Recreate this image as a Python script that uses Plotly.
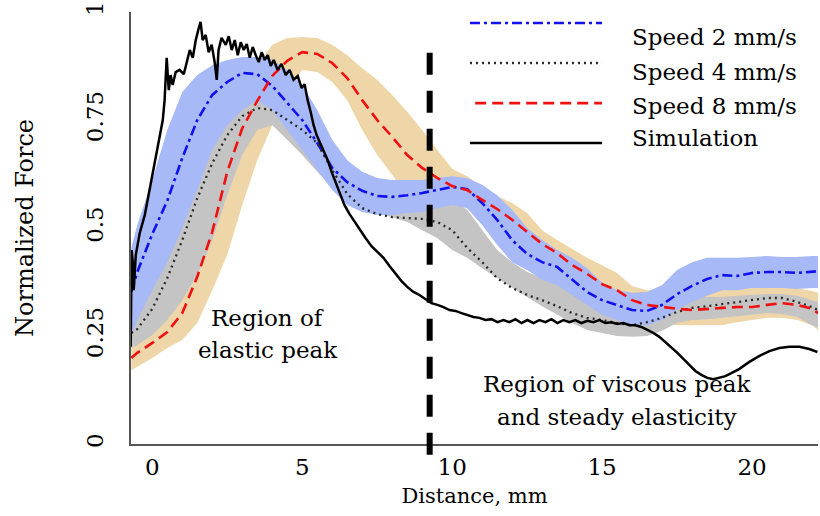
import plotly.graph_objects as go

# ---- data -----------------------------------------------------------------
# common distance grid (mm) for the measured speed curves
dist = [-0.7, -0.5, 0, 0.5, 1, 1.5, 2, 2.5, 3, 3.5, 4, 4.5, 5, 5.5, 6, 6.5, 7, 7.5,
        8, 8.5, 9, 9.5, 10, 10.5, 11, 11.5, 12, 12.5, 13, 13.5, 14, 14.5, 15, 15.5,
        16, 16.5, 17, 17.5, 18, 18.5, 19, 19.5, 20, 20.5, 21, 21.5, 22, 22.2]

speed2_mean = [0.352, 0.398, 0.486, 0.563, 0.662, 0.750, 0.808, 0.838, 0.859, 0.856,
               0.829, 0.789, 0.750, 0.697, 0.639, 0.606, 0.586, 0.574, 0.572, 0.576,
               0.581, 0.588, 0.595, 0.590, 0.558, 0.519, 0.472, 0.440, 0.421, 0.410,
               0.382, 0.352, 0.333, 0.322, 0.310, 0.308, 0.322, 0.347, 0.366, 0.382,
               0.391, 0.389, 0.396, 0.398, 0.398, 0.396, 0.398, 0.400]
speed2_hi = [0.454, 0.507, 0.611, 0.727, 0.815, 0.854, 0.877, 0.889, 0.896, 0.896,
             0.889, 0.866, 0.831, 0.773, 0.704, 0.657, 0.630, 0.616, 0.611, 0.611,
             0.611, 0.616, 0.620, 0.616, 0.600, 0.576, 0.542, 0.500, 0.472, 0.449,
             0.431, 0.407, 0.373, 0.356, 0.350, 0.352, 0.368, 0.403, 0.421, 0.431,
             0.431, 0.431, 0.433, 0.435, 0.433, 0.433, 0.435, 0.435]
speed2_lo = [0.252, 0.287, 0.356, 0.421, 0.500, 0.588, 0.681, 0.738, 0.773, 0.796,
             0.773, 0.727, 0.681, 0.634, 0.588, 0.553, 0.537, 0.530, 0.530, 0.535,
             0.537, 0.546, 0.553, 0.546, 0.507, 0.461, 0.421, 0.403, 0.380, 0.368,
             0.345, 0.322, 0.299, 0.287, 0.275, 0.275, 0.287, 0.310, 0.329, 0.343,
             0.356, 0.356, 0.361, 0.361, 0.361, 0.359, 0.361, 0.361]

speed4_mean = [0.257, 0.266, 0.313, 0.384, 0.472, 0.569, 0.650, 0.715, 0.759, 0.778,
               0.773, 0.750, 0.727, 0.697, 0.634, 0.579, 0.546, 0.532, 0.525, 0.523,
               0.521, 0.514, 0.495, 0.454, 0.421, 0.384, 0.361, 0.345, 0.333, 0.319,
               0.303, 0.292, 0.287, 0.280, 0.275, 0.282, 0.292, 0.306, 0.315, 0.319,
               0.324, 0.329, 0.333, 0.338, 0.338, 0.329, 0.317, 0.310]
speed4_hi = [0.310, 0.333, 0.380, 0.461, 0.553, 0.646, 0.715, 0.762, 0.796, 0.813,
             0.808, 0.785, 0.755, 0.715, 0.669, 0.623, 0.593, 0.576, 0.569, 0.565,
             0.565, 0.565, 0.565, 0.542, 0.495, 0.449, 0.421, 0.398, 0.384, 0.373,
             0.356, 0.345, 0.333, 0.329, 0.326, 0.329, 0.340, 0.345, 0.340, 0.340,
             0.340, 0.343, 0.345, 0.347, 0.347, 0.343, 0.333, 0.329]
speed4_lo = [0.222, 0.229, 0.252, 0.287, 0.333, 0.391, 0.472, 0.576, 0.669, 0.727,
             0.738, 0.704, 0.669, 0.630, 0.593, 0.565, 0.546, 0.535, 0.525, 0.514,
             0.495, 0.477, 0.449, 0.431, 0.407, 0.384, 0.361, 0.340, 0.319, 0.299,
             0.280, 0.264, 0.257, 0.250, 0.248, 0.250, 0.262, 0.280, 0.287, 0.289,
             0.292, 0.296, 0.299, 0.303, 0.301, 0.294, 0.275, 0.269]

speed8_mean = [0.199, 0.211, 0.234, 0.259, 0.303, 0.387, 0.491, 0.630, 0.731, 0.794,
               0.852, 0.887, 0.907, 0.903, 0.882, 0.847, 0.796, 0.750, 0.711, 0.669,
               0.639, 0.616, 0.597, 0.588, 0.565, 0.544, 0.519, 0.491, 0.463, 0.442,
               0.414, 0.394, 0.370, 0.356, 0.333, 0.322, 0.317, 0.313, 0.310, 0.313,
               0.315, 0.317, 0.317, 0.322, 0.326, 0.322, 0.313, 0.303]
speed8_hi = [0.229, 0.241, 0.269, 0.306, 0.356, 0.449, 0.576, 0.715, 0.808, 0.877,
             0.924, 0.940, 0.942, 0.940, 0.924, 0.900, 0.870, 0.843, 0.808, 0.769,
             0.727, 0.681, 0.637, 0.620, 0.595, 0.574, 0.558, 0.535, 0.495, 0.472,
             0.451, 0.431, 0.414, 0.396, 0.366, 0.356, 0.356, 0.361, 0.361, 0.361,
             0.359, 0.359, 0.361, 0.363, 0.363, 0.361, 0.354, 0.350]
speed8_lo = [0.171, 0.178, 0.199, 0.222, 0.241, 0.280, 0.356, 0.438, 0.553, 0.657,
             0.738, 0.819, 0.866, 0.861, 0.838, 0.796, 0.727, 0.669, 0.623, 0.576,
             0.553, 0.546, 0.553, 0.553, 0.530, 0.507, 0.477, 0.444, 0.421, 0.407,
             0.375, 0.352, 0.326, 0.317, 0.296, 0.287, 0.282, 0.275, 0.275, 0.275,
             0.275, 0.282, 0.287, 0.292, 0.292, 0.287, 0.275, 0.264]

# simulated force trace (mm, normalized force)
sim_dist = [-0.72, -0.70, -0.69, -0.65, -0.62, -0.55, -0.42, -0.25, -0.09, 0.01,
            0.18, 0.35, 0.41, 0.48, 0.55, 0.61, 0.68, 0.78, 0.91, 1.05,
            1.15, 1.25, 1.35, 1.45, 1.55, 1.61, 1.68, 1.78, 1.88, 1.98,
            2.08, 2.15, 2.21, 2.31, 2.45, 2.55, 2.65, 2.75, 2.85, 2.95,
            3.05, 3.15, 3.25, 3.35, 3.45, 3.55, 3.65, 3.75, 3.85, 3.95,
            4.05, 4.18, 4.31, 4.45, 4.58, 4.71, 4.85, 4.98, 5.08, 5.18,
            5.28, 5.38, 5.48, 5.58, 5.71, 5.85, 5.98, 6.11, 6.25, 6.41,
            6.58, 6.75, 6.91, 7.11, 7.31, 7.51, 7.71, 7.91, 8.11, 8.31,
            8.51, 8.71, 8.91, 9.11, 9.31, 9.51, 9.71, 9.91, 10.11, 10.31,
            10.51, 10.71, 10.91, 11.11, 11.31, 11.51, 11.71, 11.91, 12.11, 12.31,
            12.51, 12.71, 12.91, 13.11, 13.31, 13.51, 13.71, 13.91, 14.11, 14.31,
            14.51, 14.71, 14.91, 15.11, 15.31, 15.51, 15.71, 15.91, 16.11, 16.31,
            16.51, 16.71, 16.91, 17.11, 17.31, 17.51, 17.71, 17.91, 18.11, 18.31,
            18.51, 18.71, 18.91, 19.11, 19.31, 19.58, 19.91, 20.25, 20.58, 20.91,
            21.25, 21.58, 21.91, 22.18]
sim_force = [0.225, 0.333, 0.449, 0.421, 0.356, 0.438, 0.488, 0.530, 0.588, 0.627,
             0.681, 0.750, 0.796, 0.894, 0.819, 0.854, 0.831, 0.861, 0.866, 0.856,
             0.884, 0.912, 0.894, 0.935, 0.963, 0.977, 0.935, 0.947, 0.907, 0.924,
             0.884, 0.843, 0.912, 0.940, 0.924, 0.944, 0.912, 0.935, 0.900, 0.930,
             0.912, 0.926, 0.894, 0.919, 0.900, 0.884, 0.907, 0.889, 0.900, 0.875,
             0.889, 0.866, 0.880, 0.854, 0.866, 0.843, 0.852, 0.824, 0.833, 0.796,
             0.769, 0.738, 0.715, 0.699, 0.681, 0.657, 0.630, 0.606, 0.583, 0.553,
             0.532, 0.514, 0.498, 0.477, 0.458, 0.444, 0.431, 0.412, 0.394, 0.377,
             0.363, 0.352, 0.345, 0.336, 0.326, 0.322, 0.317, 0.310, 0.308, 0.303,
             0.299, 0.294, 0.292, 0.287, 0.289, 0.282, 0.287, 0.282, 0.289, 0.280,
             0.287, 0.280, 0.287, 0.282, 0.289, 0.280, 0.287, 0.282, 0.287, 0.280,
             0.285, 0.282, 0.287, 0.280, 0.282, 0.278, 0.280, 0.275, 0.275, 0.271,
             0.264, 0.257, 0.248, 0.236, 0.225, 0.211, 0.197, 0.183, 0.169, 0.160,
             0.153, 0.150, 0.153, 0.157, 0.164, 0.174, 0.190, 0.204, 0.215, 0.222,
             0.225, 0.225, 0.220, 0.213]

boundary_mm = 9.25  # split between the two regions

series_names = ["Speed 2 mm/s", "Speed 4 mm/s", "Speed 8 mm/s", "Simulation"]
tick_x = [0, 5, 10, 15, 20]
tick_y = [0, 0.25, 0.5, 0.75, 1]
tick_y_text = ["0", "0.25", "0.5", "0.75", "1"]

# ---- styling --------------------------------------------------------------
SERIF = "DejaVu Serif"
BLUE_BAND = "#a7b9f6"
GRAY_BAND = "#c4c4c4"
TAN_BAND = "#efd6a9"

line_styles = [
    dict(color="#1010f0", width=2.6, dash="10px,4px,3px,4px"),
    dict(color="#2a2a2a", width=2.3, dash="2px,4px"),
    dict(color="#f01010", width=2.6, dash="11px,6px"),
    dict(color="#000000", width=2.5, dash="solid"),
]


def band(lo, hi, color):
    return go.Scatter(x=dist + dist[::-1], y=hi + lo[::-1], fill="toself",
                      fillcolor=color, line=dict(width=0), mode="lines",
                      hoverinfo="skip", showlegend=False)


fig = go.Figure()
fig.add_trace(band(speed8_lo, speed8_hi, TAN_BAND))
fig.add_trace(band(speed4_lo, speed4_hi, GRAY_BAND))
fig.add_trace(band(speed2_lo, speed2_hi, BLUE_BAND))

fig.add_trace(go.Scatter(x=dist, y=speed2_mean, mode="lines", name=series_names[0],
                         line=line_styles[0], showlegend=False))
fig.add_trace(go.Scatter(x=dist, y=speed4_mean, mode="lines", name=series_names[1],
                         line=line_styles[1], showlegend=False))
fig.add_trace(go.Scatter(x=dist, y=speed8_mean, mode="lines", name=series_names[2],
                         line=line_styles[2], showlegend=False))
fig.add_trace(go.Scatter(x=sim_dist, y=sim_force, mode="lines", name=series_names[3],
                         line=line_styles[3], showlegend=False))

# region boundary
fig.add_shape(type="line", xref="x", yref="paper", x0=boundary_mm, x1=boundary_mm,
              y0=-0.025, y1=0.917, line=dict(color="black", width=6, dash="22px,16px"))

# key drawn at the upper right
key_rows_line = [0.9745, 0.882, 0.789, 0.697]
key_rows_text = [0.942, 0.861, 0.782, 0.708]
for i, name in enumerate(series_names):
    x0 = 0.501 if i == 2 else 0.4934
    fig.add_shape(type="line", xref="paper", yref="paper", x0=x0, x1=0.6856,
                  y0=key_rows_line[i], y1=key_rows_line[i], line=line_styles[i])
    fig.add_annotation(xref="paper", yref="paper", x=0.7263, y=key_rows_text[i],
                       text=name, showarrow=False, xanchor="left", yanchor="middle",
                       font=dict(family=SERIF, size=23, color="black"))

# region labels
region_text = [
    ("Region of", 3.85, 0.292),
    ("elastic peak", 3.85, 0.218),
    ("Region of viscous peak", 15.5, 0.140),
    ("and steady elasticity", 15.5, 0.062),
]
for txt, xv, yv in region_text:
    fig.add_annotation(x=xv, y=yv, text=txt, showarrow=False, xanchor="center",
                       yanchor="middle", font=dict(family=SERIF, size=23, color="black"))

fig.update_layout(
    width=820, height=516,
    margin=dict(l=131, r=2, t=12, b=72),
    plot_bgcolor="white", paper_bgcolor="white",
    showlegend=False,
    font=dict(family=SERIF, color="black"),
    xaxis=dict(range=[-0.71, 22.2], showgrid=False, zeroline=False, showline=True,
               linecolor="#555555", linewidth=1.5, ticks="", tickvals=tick_x,
               tickfont=dict(family=SERIF, size=23, color="black"),
               ticklabelstandoff=2,
               title=dict(text="Distance, mm", font=dict(family=SERIF, size=21),
                          standoff=9)),
    yaxis=dict(range=[0, 1], showgrid=False, zeroline=False, showline=True,
               linecolor="#555555", linewidth=1.5, ticks="", tickvals=tick_y,
               ticktext=tick_y_text, tickangle=-90,
               tickfont=dict(family=SERIF, size=23, color="black"),
               ticklabelstandoff=17,
               title=dict(text="Normalized Force", font=dict(family=SERIF, size=24),
                          standoff=42)),
)

fig.write_html("out.html")
